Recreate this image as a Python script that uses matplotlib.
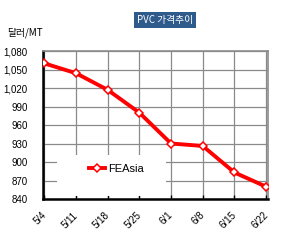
import matplotlib.pyplot as plt
import matplotlib.transforms as mtransforms
from matplotlib.patches import Rectangle
import numpy as np

plt.rcParams['font.family'] = ['Noto Sans CJK KR', 'DejaVu Sans']

dates = ['5/4', '5/11', '5/18', '5/25', '6/1', '6/8', '6/15', '6/22']
prices = [1060, 1044, 1017, 980, 930, 926, 883, 860]
yticks = [840, 870, 900, 930, 960, 990, 1020, 1050, 1080]

fig = plt.figure(figsize=(3.05, 2.45), dpi=100)
ax = fig.add_axes([43 / 305, 46 / 245, 225 / 305, 148 / 245])

x = np.arange(len(dates))
ax.plot(x, prices, color='#ff0000', lw=2.8, marker='D', ms=4,
        mfc='white', mec='#ff0000', mew=1.1, label='FEAsia', zorder=3)

ax.set_xlim(-0.04, len(dates) - 1 + 0.06)
ax.set_ylim(840, 1080)
ax.set_yticks(yticks)
ax.set_yticklabels([f'{v:,}' for v in yticks], fontsize=7, fontfamily='Liberation Sans')
ax.set_xticks(x)
ax.set_xticklabels(dates, rotation=45, fontsize=7, fontfamily='Liberation Sans',
                   ha='right', va='top')
ax.tick_params(axis='x', direction='in', length=3, width=1, pad=8)
ax.tick_params(axis='y', length=0, pad=11)

# nudge rotated labels a little to the right, as in the original
shift = mtransforms.ScaledTranslation(4 / 100, 0, fig.dpi_scale_trans)
for lab in ax.get_xticklabels():
    lab.set_transform(lab.get_transform() + shift)

ax.grid(True, color='#8a8a8a', lw=0.9)
ax.set_axisbelow(True)
for s in ['top', 'right']:
    ax.spines[s].set_color('#8c8c8c')
    ax.spines[s].set_linewidth(1.2)
for s in ['left', 'bottom']:
    ax.spines[s].set_color('black')
    ax.spines[s].set_linewidth(1.8)

# white legend area covering the grid
ax.add_patch(Rectangle((0.062, 0.02), 0.485, 0.277, transform=ax.transAxes,
                       fc='white', ec='none', zorder=1))
ax.legend(loc='center left', bbox_to_anchor=(0.178, 0.203), frameon=False,
          borderpad=0, handlelength=1.5, handletextpad=0.3,
          prop={'family': 'Liberation Sans', 'size': 8})

fig.text(0.541, 0.918, 'PVC 가격추이', fontsize=7, color='white', ha='center', va='center',
         bbox=dict(boxstyle='square,pad=0.35', fc='#2f5a8c', ec='none'))
fig.text(0.025, 0.865, '달러/MT', fontsize=7, color='black', ha='left', va='center')

fig.savefig('out.png', dpi=100)
